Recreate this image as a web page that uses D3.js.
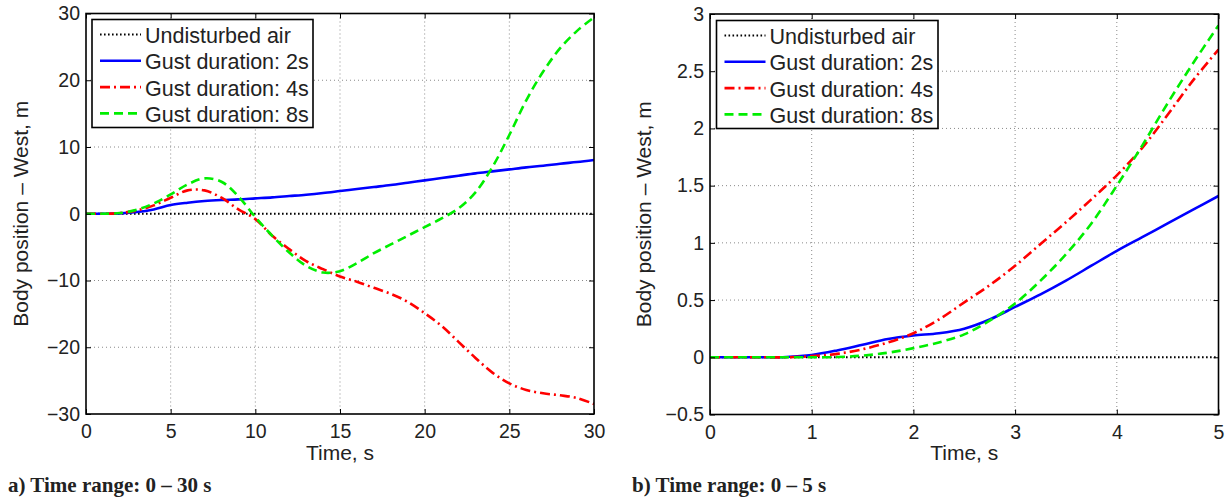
<!DOCTYPE html>
<html>
<head>
<meta charset="utf-8">
<script src="https://cdn.jsdelivr.net/npm/d3@7"></script>
<style>
  html, body { margin: 0; padding: 0; background: #fff; }
  svg { display: block; }
  text { fill: #222; }
</style>
</head>
<body>
<svg id="chart" width="1229" height="502"></svg>
<script>
// ---------- DATA ----------
const seriesNames = ["Undisturbed air", "Gust duration: 2s", "Gust duration: 4s", "Gust duration: 8s"];

// Panel a) 0 - 30 s
const timeA = [0,1,2,3,4,5,6,7,8,9,10,11,12,13,14,15,16,17,18,19,20,21,22,23,24,25,26,27,28,29,30];
const undisturbedA = [0,0,0,0,0,0,0,0,0,0,0,0,0,0,0,0,0,0,0,0,0,0,0,0,0,0,0,0,0,0,0];
const gust2A = [0,0,0.05,0.25,0.65,1.3,1.65,1.9,2.05,2.15,2.3,2.45,2.65,2.85,3.1,3.4,3.7,4.0,4.3,4.65,5.0,5.35,5.7,6.05,6.35,6.65,6.95,7.2,7.5,7.75,8.05];
const gust4A = [0,0,0.1,0.5,1.25,2.4,3.5,3.5,2.4,0.65,-0.8,-3.3,-5.3,-7.1,-8.3,-9.4,-10.2,-11.1,-12.0,-13.2,-14.9,-16.8,-19.2,-21.6,-23.8,-25.4,-26.4,-26.9,-27.2,-27.6,-28.5];
const gust8A = [0,0,0.1,0.6,1.55,2.9,4.4,5.3,4.8,2.6,-0.5,-3.3,-5.8,-7.8,-8.8,-8.6,-7.4,-5.9,-4.6,-3.3,-2.0,-0.7,0.8,3.2,7.0,11.8,17.0,21.3,24.8,27.4,29.4];
const xTicksA = [0,5,10,15,20,25,30];
const xTickLabelsA = ["0","5","10","15","20","25","30"];
const yTicksA = [-30,-20,-10,0,10,20,30];
const yTickLabelsA = ["\u221230","\u221220","\u221210","0","10","20","30"];

// Panel b) 0 - 5 s
const timeB = [0,0.25,0.5,0.75,1,1.25,1.5,1.75,2,2.25,2.5,2.75,3,3.25,3.5,3.75,4,4.25,4.5,4.75,5];
const undisturbedB = [0,0,0,0,0,0,0,0,0,0,0,0,0,0,0,0,0,0,0,0,0];
const gust2B = [0,0,0,0.003,0.02,0.06,0.11,0.16,0.19,0.21,0.25,0.33,0.44,0.55,0.67,0.80,0.93,1.05,1.17,1.29,1.41];
const gust4B = [0,0,0,0,0.01,0.03,0.07,0.13,0.21,0.33,0.48,0.63,0.80,0.99,1.18,1.38,1.59,1.83,2.12,2.42,2.69];
const gust8B = [0,0,0,0,0,0.002,0.015,0.04,0.08,0.13,0.2,0.32,0.47,0.67,0.9,1.17,1.5,1.85,2.22,2.57,2.9];
const xTicksB = [0,1,2,3,4,5];
const xTickLabelsB = ["0","1","2","3","4","5"];
const yTicksB = [-0.5,0,0.5,1,1.5,2,2.5,3];
const yTickLabelsB = ["\u22120.5","0","0.5","1","1.5","2","2.5","3"];

const axisLabelX = "Time, s";
const axisLabelY = "Body position \u2013 West, m";
const captionA = "a) Time range: 0 \u2013 30 s";
const captionB = "b) Time range: 0 \u2013 5 s";

// ---------- STYLE ----------
const styles = [
  { color: "#000000", dash: "1.6,2.4", width: 2 },
  { color: "#0000ff", dash: null, width: 2.6 },
  { color: "#ff0000", dash: "10,4,2,4", width: 2.6 },
  { color: "#00ee00", dash: "9,5", width: 2.6 }
];
const SANS = "'Liberation Sans', Arial, Helvetica, sans-serif";
const SERIF = "'Liberation Serif', 'Times New Roman', serif";

const svg = d3.select("#chart");

function drawPanel(cfg) {
  const { left, right, top, bottom } = cfg.box;
  const x = d3.scaleLinear().domain(cfg.xDomain).range([left, right]);
  const y = d3.scaleLinear().domain(cfg.yDomain).range([bottom, top]);
  const g = svg.append("g");
  const id = "clip" + cfg.key;

  svg.append("clipPath").attr("id", id)
    .append("rect").attr("x", left).attr("y", top - 2)
    .attr("width", right - left).attr("height", bottom - top + 4);

  // grid
  const grid = g.append("g").attr("stroke", "#8a8a8a").attr("stroke-width", 1)
    .attr("stroke-dasharray", "1,3").attr("fill", "none");
  cfg.xTicks.forEach(t => {
    if (t === cfg.xDomain[0] || t === cfg.xDomain[1]) return;
    grid.append("line").attr("x1", x(t)).attr("x2", x(t)).attr("y1", top).attr("y2", bottom);
  });
  cfg.yTicks.forEach(t => {
    if (t === cfg.yDomain[0] || t === cfg.yDomain[1]) return;
    grid.append("line").attr("y1", y(t)).attr("y2", y(t)).attr("x1", left).attr("x2", right);
  });

  // series
  const line = d3.line().x(d => x(d[0])).y(d => y(d[1])).curve(d3.curveCatmullRom.alpha(0.5));
  const lines = g.append("g").attr("clip-path", `url(#${id})`);
  cfg.series.forEach((vals, i) => {
    const pts = cfg.time.map((t, j) => [t, vals[j]]);
    const st = styles[i];
    lines.append("path").datum(pts)
      .attr("d", line)
      .attr("fill", "none")
      .attr("stroke", st.color)
      .attr("stroke-width", st.width)
      .attr("stroke-dasharray", st.dash)
      .attr("stroke-linejoin", "round");
  });

  // axes ticks
  const fmt = (labels, ticks) => (d) => labels[ticks.indexOf(d)];
  const axB = d3.axisBottom(x).tickValues(cfg.xTicks).tickFormat(fmt(cfg.xLabels, cfg.xTicks))
    .tickSizeInner(-5).tickSizeOuter(0).tickPadding(10.5);
  const axL = d3.axisLeft(y).tickValues(cfg.yTicks).tickFormat(fmt(cfg.yLabels, cfg.yTicks))
    .tickSizeInner(-5).tickSizeOuter(0).tickPadding(6);
  const axT = d3.axisTop(x).tickValues(cfg.xTicks).tickFormat("").tickSizeInner(-5).tickSizeOuter(0);
  const axR = d3.axisRight(y).tickValues(cfg.yTicks).tickFormat("").tickSizeInner(-5).tickSizeOuter(0);

  const styleAxis = sel => {
    sel.select(".domain").remove();
    sel.selectAll("line").attr("stroke", "#000").attr("stroke-width", 1);
    sel.selectAll("text").attr("font-family", SANS).attr("font-size", 19.5).attr("fill", "#222");
  };
  g.append("g").attr("transform", `translate(0,${bottom})`).call(axB).call(styleAxis);
  g.append("g").attr("transform", `translate(${left},0)`).call(axL).call(styleAxis);
  g.append("g").attr("transform", `translate(0,${top})`).call(axT).call(styleAxis);
  g.append("g").attr("transform", `translate(${right},0)`).call(axR).call(styleAxis);

  // box
  g.append("rect").attr("x", left).attr("y", top).attr("width", right - left).attr("height", bottom - top)
    .attr("fill", "none").attr("stroke", "#000").attr("stroke-width", 1.6);

  // axis labels
  g.append("text").attr("x", (left + right) / 2).attr("y", 459.5)
    .attr("text-anchor", "middle").attr("font-family", SANS).attr("font-size", 21)
    .text(axisLabelX);
  g.append("text")
    .attr("transform", `translate(${cfg.yLabelX},${(top + bottom) / 2}) rotate(-90)`)
    .attr("text-anchor", "middle").attr("dy", "0.35em")
    .attr("font-family", SANS).attr("font-size", 21)
    .text(axisLabelY);

  // legend
  const lg = cfg.legend;
  const leg = g.append("g");
  leg.append("rect").attr("x", lg.x).attr("y", lg.y).attr("width", lg.w).attr("height", lg.h)
    .attr("fill", "#fff").attr("stroke", "#000").attr("stroke-width", 1.6);
  seriesNames.forEach((name, i) => {
    const cy = lg.y + 15 + i * 26.3;
    const st = styles[i];
    leg.append("line").attr("x1", lg.x + 8).attr("x2", lg.x + 49).attr("y1", cy).attr("y2", cy)
      .attr("stroke", st.color).attr("stroke-width", st.width).attr("stroke-dasharray", st.dash);
    leg.append("text").attr("x", lg.x + 53).attr("y", cy + 8.5)
      .attr("font-family", SANS).attr("font-size", 21.5).text(name);
  });

  // caption
  svg.append("text").attr("x", cfg.captionX).attr("y", 492)
    .attr("font-family", SERIF).attr("font-weight", "bold").attr("font-size", 21)
    .attr("fill", "#000").text(cfg.caption);
}

drawPanel({
  key: "A",
  box: { left: 86, right: 594, top: 13.5, bottom: 414 },
  xDomain: [0, 30], yDomain: [-30, 30],
  xTicks: xTicksA, xLabels: xTickLabelsA, yTicks: yTicksA, yLabels: yTickLabelsA,
  time: timeA, series: [undisturbedA, gust2A, gust4A, gust8A],
  yLabelX: 21,
  legend: { x: 92, y: 19.5, w: 221, h: 108 },
  caption: captionA, captionX: 8
});

drawPanel({
  key: "B",
  box: { left: 710, right: 1218.5, top: 14, bottom: 414.5 },
  xDomain: [0, 5], yDomain: [-0.5, 3],
  xTicks: xTicksB, xLabels: xTickLabelsB, yTicks: yTicksB, yLabels: yTickLabelsB,
  time: timeB, series: [undisturbedB, gust2B, gust4B, gust8B],
  yLabelX: 644,
  legend: { x: 716.5, y: 20.5, w: 221.5, h: 108 },
  caption: captionB, captionX: 632
});
</script>
</body>
</html>
